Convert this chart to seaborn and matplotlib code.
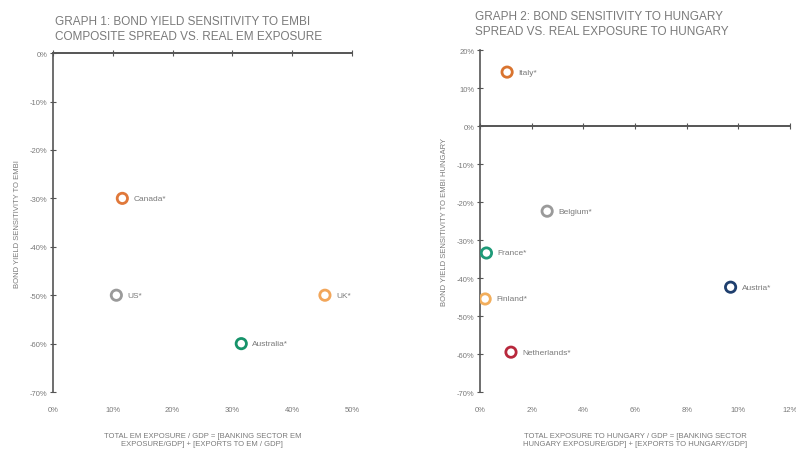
import numpy as np
import pandas as pd
import matplotlib
matplotlib.use('Agg')
import matplotlib.pyplot as plt
from matplotlib.ticker import PercentFormatter
import seaborn as sns

# graph 1 data
g1_countries = ['Canada', 'US', 'UK', 'Australia']
g1_exposure = [11.6, 10.6, 45.5, 31.5]
g1_sensitivity = [-30, -50, -50, -60]
g1_colors = ['#E0783A', '#9A9A9A', '#F2A65A', '#16936A']

# graph 2 data
g2_countries = ['Italy', 'Belgium', 'France', 'Finland', 'Austria', 'Netherlands']
g2_exposure = [1.05, 2.6, 0.25, 0.2, 9.7, 1.2]
g2_sensitivity = [14.2, -22.4, -33.4, -45.5, -42.4, -59.5]
g2_colors = ['#D9742F', '#9A9A9A', '#1E9A78', '#F2AE5C', '#1F3F6E', '#B8283C']

sns.set_theme(style='white')
plt.rcParams['font.family'] = ['Liberation Sans Narrow', 'Liberation Sans', 'DejaVu Sans']
plt.rcParams['axes.unicode_minus'] = False

grey = '#7A7A7A'
axcol = '#555555'

fig = plt.figure(figsize=(7.96, 4.56), dpi=100)
ax1 = fig.add_axes([0.0666, 0.138, 0.3754, 0.7434])
ax2 = fig.add_axes([0.603, 0.138, 0.3895, 0.750])


def draw(ax, countries, xs, ys, colors):
    df = pd.DataFrame({'country': countries, 'x': xs, 'y': ys})
    sns.scatterplot(data=df, x='x', y='y', hue='country', palette=colors,
                    s=55, linewidth=2, legend=False, ax=ax, zorder=3)
    coll = ax.collections[-1]
    coll.set_edgecolors(coll.get_facecolors())
    coll.set_facecolors('none')
    for c, x, y in zip(countries, xs, ys):
        ax.annotate(c + '*', (x, y), xytext=(8, 0), textcoords='offset points',
                    va='center', ha='left', fontsize=6, color=grey)


def style(ax, xmax, xstep, ymin, ymax):
    ax.set_xlim(0, xmax)
    ax.set_ylim(ymin, ymax)
    ax.set_xticks(np.arange(0, xmax + 0.01, xstep))
    ax.set_yticks(np.arange(ymin, ymax + 1, 10))
    ax.xaxis.set_major_formatter(PercentFormatter(decimals=0))
    ax.yaxis.set_major_formatter(PercentFormatter(decimals=0))
    for s in ['right', 'top', 'bottom']:
        ax.spines[s].set_visible(False)
    ax.spines['left'].set_color(axcol)
    ax.spines['left'].set_linewidth(1.2)
    ax.tick_params(axis='x', bottom=False, labelbottom=True, labelsize=5.5,
                   labelcolor=grey, pad=4)
    ax.tick_params(axis='y', left=True, direction='inout', length=4, width=0.8,
                   color=axcol, labelsize=5.5, labelcolor=grey, pad=2)
    # zero line with tick marks
    loc = (0 - ymin) / (ymax - ymin)
    sec = ax.secondary_xaxis(loc)
    sec.set_xticks(np.arange(0, xmax + 0.01, xstep))
    sec.tick_params(axis='x', direction='inout', length=4, width=0.8,
                    color=axcol, labelbottom=False, labeltop=False)
    for s in ['top', 'bottom']:
        sec.spines[s].set_visible(True)
        sec.spines[s].set_color(axcol)
        sec.spines[s].set_linewidth(1.2)
    ax.set_xlabel('')
    ax.set_ylabel('')


draw(ax1, g1_countries, g1_exposure, g1_sensitivity, g1_colors)
style(ax1, 50, 10, -70, 0)
draw(ax2, g2_countries, g2_exposure, g2_sensitivity, g2_colors)
style(ax2, 12, 2, -70, 20)

ax1.set_xlabel('TOTAL EM EXPOSURE / GDP = [BANKING SECTOR EM\nEXPOSURE/GDP] + [EXPORTS TO EM / GDP]',
               fontsize=5.5, color=grey, labelpad=14)
ax1.set_ylabel('BOND YIELD SENSITIVITY TO EMBI', fontsize=5.5, color=grey, labelpad=6)
ax2.set_xlabel('TOTAL EXPOSURE TO HUNGARY / GDP = [BANKING SECTOR\nHUNGARY EXPOSURE/GDP] + [EXPORTS TO HUNGARY/GDP]',
               fontsize=5.5, color=grey, labelpad=14)
ax2.set_ylabel('BOND YIELD SENSITIVITY TO EMBI HUNGARY', fontsize=5.5, color=grey, labelpad=6)

fig.text(0.069, 0.965, 'GRAPH 1: BOND YIELD SENSITIVITY TO EMBI\nCOMPOSITE SPREAD VS. REAL EM EXPOSURE',
         fontsize=8.5, color=grey, va='top', ha='left', linespacing=1.3)
fig.text(0.597, 0.975, 'GRAPH 2: BOND SENSITIVITY TO HUNGARY\nSPREAD VS. REAL EXPOSURE TO HUNGARY',
         fontsize=8.5, color=grey, va='top', ha='left', linespacing=1.3)

fig.savefig('out.png', dpi=100)
